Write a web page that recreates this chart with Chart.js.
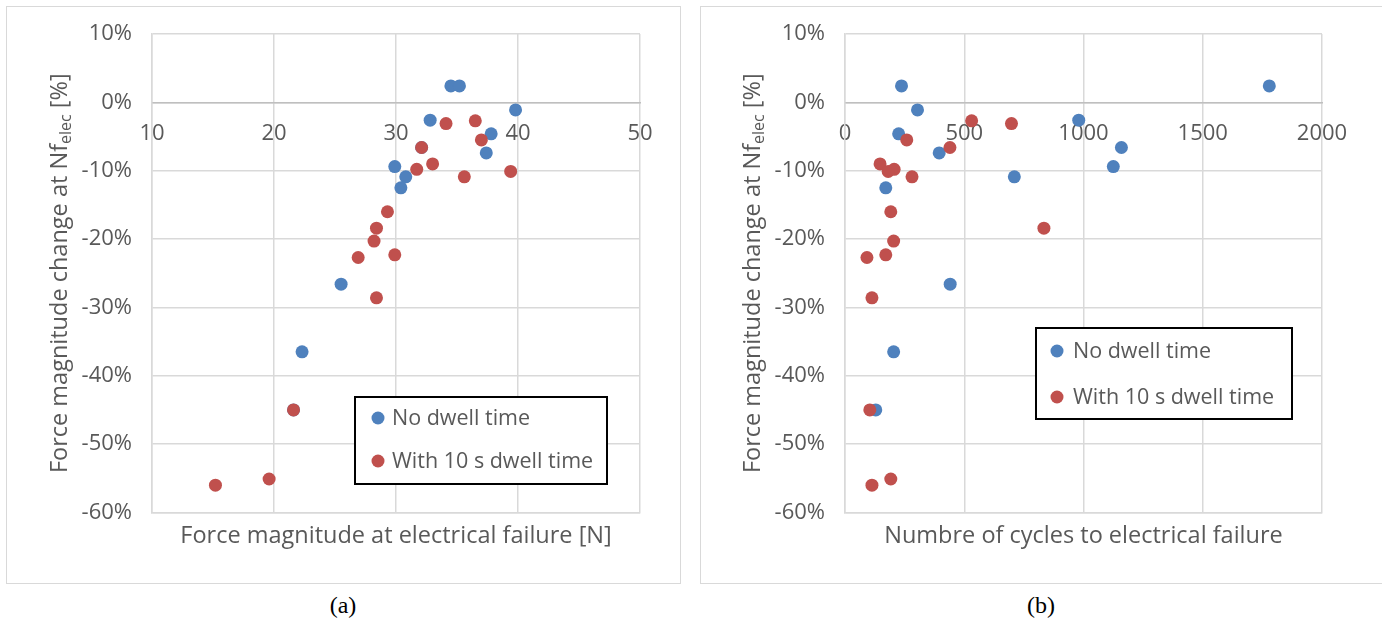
<!DOCTYPE html>
<html>
<head>
<meta charset="utf-8">
<script src="https://cdn.jsdelivr.net/npm/chart.js@4.4.1/dist/chart.umd.min.js"></script>
<style>
  body { margin: 0; background: #fff; width: 1382px; height: 626px; position: relative; overflow: hidden; }
  .panel { position: absolute; top: 6px; height: 578px; border: 1px solid #d9d9d9; box-sizing: border-box; }
  canvas { position: absolute; top: 6px; }
  .cap { position: absolute; top: 592px; width: 100px; text-align: center; font: 24px "Liberation Serif", serif; color: #000; }
</style>
</head>
<body>
<div class="panel" style="left:6px;width:675px"></div>
<div class="panel" style="left:700px;width:684px"></div>
<canvas id="chartA" width="675" height="578" style="left:6px"></canvas>
<canvas id="chartB" width="682" height="578" style="left:700px"></canvas>
<div class="cap" style="left:293px">(a)</div>
<div class="cap" style="left:991px">(b)</div>
<script>
// values (percent change / force in N / cycles)
const seriesNames = ["No dwell time", "With 10 s dwell time"];
const seriesColors = ["#4f81bd", "#c0504d"];

const noDwellChange = [2.4, 2.4, -1.1, -2.6, -4.6, -6.6, -7.4, -9.4, -10.9, -12.5, -26.6, -36.5, -45.0];
const noDwellForce = [34.5, 35.2, 39.8, 32.8, 37.8, 32.1, 37.4, 29.9, 30.8, 30.4, 25.5, 22.3, 21.6];
const noDwellCycles = [237, 1779, 304, 980, 225, 1159, 395, 1125, 710, 171, 441, 204, 129];

const dwellChange = [-2.7, -3.1, -5.5, -6.6, -9.0, -9.8, -10.1, -10.9, -16.0, -18.4, -20.3, -22.3, -22.7, -28.6, -45.0, -55.1, -56.0];
const dwellForce = [36.5, 34.1, 37.0, 32.1, 33.0, 31.7, 39.4, 35.6, 29.3, 28.4, 28.2, 29.9, 26.9, 28.4, 21.6, 19.6, 15.2];
const dwellCycles = [531, 698, 259, 440, 147, 206, 181, 281, 192, 834, 204, 171, 92, 113, 104, 192, 113];

const yTitle = ["Force magnitude change at Nf", "elec", " [%]"];

const FONT = "'Open Sans', Lato, sans-serif";
const TEXT = "#595959";
const GRID = "#d9d9d9";

const toPoints = (xs, ys) => xs.map((x, i) => ({ x: x, y: ys[i] }));

// axis titles drawn by hand so the subscript can be kept
const axisTitles = {
  id: "axisTitles",
  afterDraw(chart, args, opts) {
    const { ctx, chartArea: a } = chart;
    ctx.save();
    ctx.fillStyle = TEXT;
    ctx.textBaseline = "middle";
    ctx.textAlign = "center";
    ctx.font = "23.5px " + FONT;
    ctx.fillText(opts.xTitle, (a.left + a.right) / 2, a.bottom + 24);

    const big = "23.5px " + FONT, small = "16px " + FONT;
    ctx.font = big;
    const w1 = ctx.measureText(yTitle[0]).width;
    const w3 = ctx.measureText(yTitle[2]).width;
    ctx.font = small;
    const w2 = ctx.measureText(yTitle[1]).width;
    const total = w1 + w2 + w3;
    ctx.translate(a.left - 92, (a.top + a.bottom) / 2);
    ctx.rotate(-Math.PI / 2);
    ctx.textAlign = "left";
    let x = -total / 2;
    ctx.font = big;
    ctx.fillText(yTitle[0], x, 0);
    x += w1;
    ctx.font = small;
    ctx.fillText(yTitle[1], x, 6);
    x += w2;
    ctx.font = big;
    ctx.fillText(yTitle[2], x, 0);
    ctx.restore();
  }
};

// boxed legend inside the plot
const boxLegend = {
  id: "boxLegend",
  afterDraw(chart, args, opts) {
    const { ctx } = chart;
    ctx.save();
    ctx.fillStyle = "#fff";
    ctx.fillRect(opts.x, opts.y, opts.w, opts.h);
    ctx.strokeStyle = "#000";
    ctx.lineWidth = 2;
    ctx.strokeRect(opts.x, opts.y, opts.w, opts.h);
    ctx.font = "21.5px " + FONT;
    ctx.textBaseline = "middle";
    chart.data.datasets.forEach((ds, i) => {
      const cy = opts.y + opts.rows[i];
      ctx.fillStyle = ds.backgroundColor;
      ctx.beginPath();
      ctx.arc(opts.x + opts.dot, cy, 6.5, 0, Math.PI * 2);
      ctx.fill();
      ctx.fillStyle = TEXT;
      ctx.fillText(ds.label, opts.x + opts.text, cy + 1);
    });
    ctx.restore();
  }
};

function makeChart(id, noDwellX, dwellX, xMin, xMax, xStep, xTitle, yWidth, padRight, legend) {
  const tickFont = { family: FONT, size: 22 };
  return new Chart(document.getElementById(id), {
    type: "scatter",
    data: {
      datasets: [
        {
          label: seriesNames[0],
          data: toPoints(noDwellX, noDwellChange),
          backgroundColor: seriesColors[0],
          borderWidth: 0,
          pointRadius: 6.5,
          order: 2
        },
        {
          label: seriesNames[1],
          data: toPoints(dwellX, dwellChange),
          backgroundColor: seriesColors[1],
          borderWidth: 0,
          pointRadius: 6.5,
          order: 1
        }
      ]
    },
    options: {
      responsive: false,
      animation: false,
      layout: { padding: { top: 28, right: padRight, left: 0, bottom: 0 } },
      scales: {
        x: {
          type: "linear",
          min: xMin,
          max: xMax,
          ticks: { display: false, stepSize: xStep },
          grid: { color: GRID, lineWidth: 1.5, drawTicks: false },
          border: { color: GRID, width: 1.5 },
          afterFit: (s) => { s.height = 71.5; }
        },
        xZero: {
          type: "linear",
          axis: "x",
          position: { y: 0 },
          min: xMin,
          max: xMax,
          ticks: { stepSize: xStep, font: tickFont, color: TEXT, padding: 18, maxRotation: 0, callback: (v) => String(v) },
          grid: { display: false, drawTicks: false },
          border: { color: "#bfbfbf", width: 1.5 }
        },
        y: {
          min: -60,
          max: 10,
          ticks: { stepSize: 10, font: tickFont, color: TEXT, padding: 20, callback: (v) => v + "%" },
          grid: { color: GRID, lineWidth: 1.5, drawTicks: false },
          border: { color: GRID, width: 1.5 },
          afterFit: (s) => { s.width = yWidth; s.paddingTop = 0; s.paddingBottom = 0; }
        }
      },
      plugins: {
        legend: { display: false },
        tooltip: { enabled: false },
        axisTitles: { xTitle: xTitle },
        boxLegend: legend
      }
    },
    plugins: [axisTitles, boxLegend]
  });
}

makeChart("chartA", noDwellForce, dwellForce, 10, 50, 10,
  "Force magnitude at electrical failure [N]", 146, 41,
  { x: 349, y: 391, w: 252, h: 87, dot: 23, text: 37, rows: [21, 64] });

makeChart("chartB", noDwellCycles, dwellCycles, 0, 2000, 500,
  "Numbre of cycles to electrical failure", 145, 60,
  { x: 336, y: 322, w: 256, h: 91, dot: 21, text: 37, rows: [23, 69] });
</script>
</body>
</html>
